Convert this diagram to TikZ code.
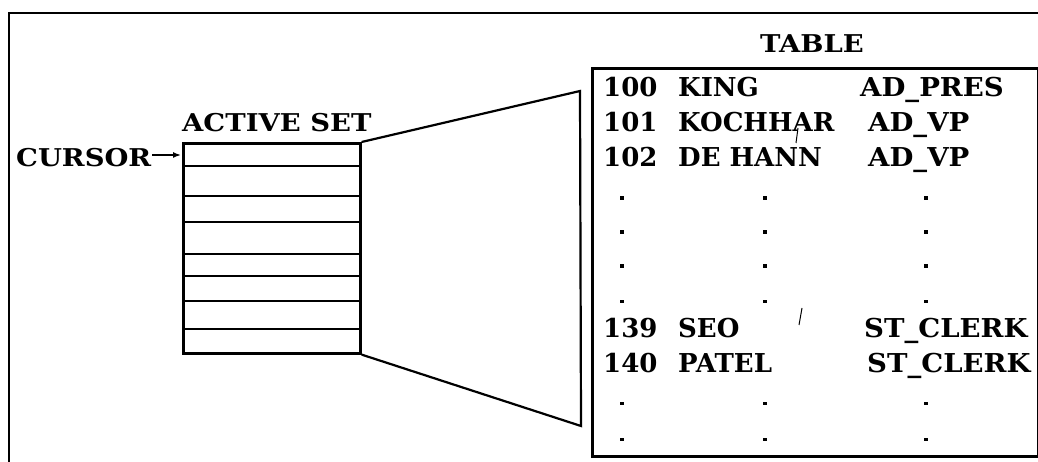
\documentclass[tikz,border=0pt]{standalone}
\usepackage{fontspec}
\setmainfont{DejaVu Serif}
\newfontfamily\widefont[FakeStretch=1.12]{DejaVu Serif}
\newfontfamily\jobfont[FakeStretch=1.06]{DejaVu Serif}
\usetikzlibrary{arrows.meta}
\begin{document}
\begin{tikzpicture}[x=1pt,y=-1pt,
  frame/.style={line width=2.8pt},
  box/.style={draw,line width=2.6pt,inner sep=0pt},
  thin/.style={line width=2.2pt},
  big/.style={inner sep=0pt,font=\bfseries\fontsize{26}{30}\selectfont},
  job/.style={inner sep=0pt,font=\jobfont\bfseries\fontsize{26}{30}\selectfont},
  lbl/.style={inner sep=0pt,font=\widefont\bfseries\fontsize{24.5}{28}\selectfont}]
\useasboundingbox (0,0) rectangle (1038,462);
% outer frame
\coordinate (fbl) at (9,462);
\coordinate (ftl) at (9,13);
\coordinate (ftr) at (1038,13);
\draw[frame] (fbl) -- (ftl) -- (ftr);
% labels
\node[lbl,anchor=base west] (cursor) at (16,167) {CURSOR};
\node[lbl,anchor=base west] (activeset) at (182,132) {ACTIVE SET};
\node[lbl,anchor=base] (tabletitle) at (812,53) {TABLE};
% active set
\node[box,anchor=north west,minimum width=177pt,minimum height=210pt] (as) at (182,142) {};
\foreach \yy in {166,196,222,254,276,301,329}{
  \draw[line width=2.6pt] (182,\yy) -- (359,\yy);
}
\coordinate (arrowstart) at (152,155);
\coordinate (arrowend) at (181,155);
\draw[line width=1.5pt,-{Latex[length=8pt,width=6pt]}] (arrowstart) -- (arrowend);
% trapezoid
\coordinate (t1) at (580,91);
\coordinate (t2) at (581,426);
\draw[thin] (as.north east) -- (t1) -- (t2) -- (as.south east);
% table
\node[box,anchor=north west,minimum width=446pt,minimum height=388pt] (tbl) at (591,67) {};
\node[big,anchor=base west] (n1) at (603,97) {100};
\node[big,anchor=base west] (m1) at (678,97) {KING};
\node[job,anchor=base west] (j1) at (860,97) {AD\_PRES};
\node[big,anchor=base west] (n2) at (603,132) {101};
\node[big,anchor=base west] (m2) at (678,132) {KOCHHAR};
\node[job,anchor=base west] (j2) at (868,132) {AD\_VP};
\node[big,anchor=base west] (n3) at (603,167) {102};
\node[big,anchor=base west] (m3) at (678,167) {DE HANN};
\node[job,anchor=base west] (j3) at (868,167) {AD\_VP};
\foreach \yy in {200,234,268,303,405,441}{
  \fill (620,\yy-3.5) rectangle ++(3.6,3.6);
  \fill (763.2,\yy-3.5) rectangle ++(3.6,3.6);
  \fill (924,\yy-3.5) rectangle ++(3.6,3.6);
}
\node[big,anchor=base west] (n4) at (603,337) {139};
\node[big,anchor=base west] (m4) at (678,337) {SEO};
\node[job,anchor=base west] (j4) at (864,337) {ST\_CLERK};
\node[big,anchor=base west] (n5) at (603,372) {140};
\node[big,anchor=base west] (m5) at (678,372) {PATEL};
\node[job,anchor=base west] (j5) at (867,372) {ST\_CLERK};
% stray marks
\draw[line width=1pt] (798,128) -- (796,143);
\draw[line width=1pt] (802,308) -- (799,325);
\end{tikzpicture}
\end{document}
